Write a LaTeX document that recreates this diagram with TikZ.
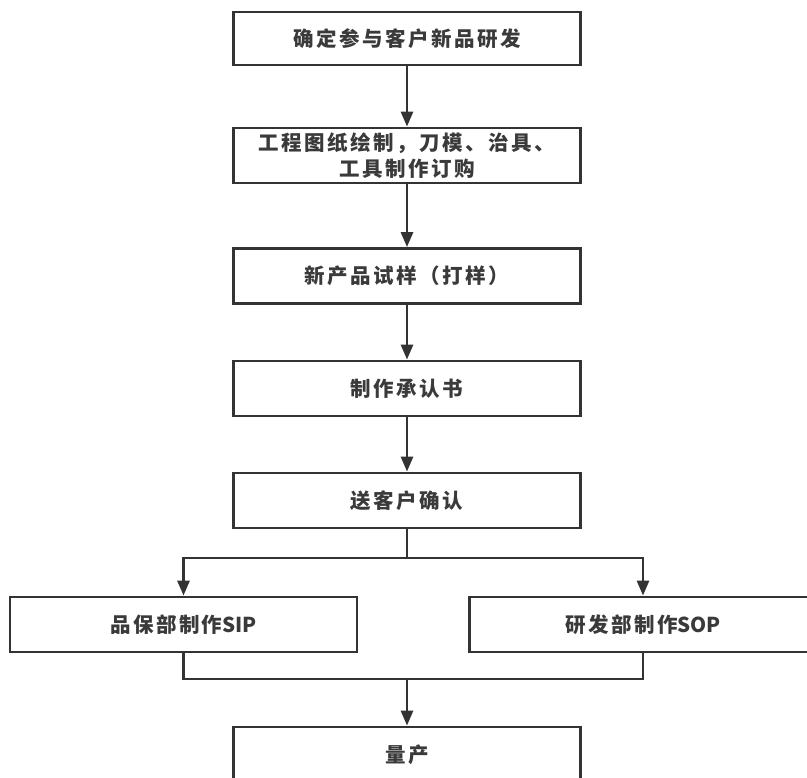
\documentclass[tikz,border=0pt]{standalone}
\usepackage{fontspec}
\setmainfont{Noto Sans CJK SC}[LetterSpace=12]
\usetikzlibrary{arrows.meta}
\definecolor{ink}{HTML}{333333}
\definecolor{txt}{HTML}{3A3A3A}
\tikzset{
  stepbox/.style={draw=ink, line width=2.8pt, fill=white, rectangle, minimum width=347pt, minimum height=55pt, inner sep=0pt, align=center, text=txt, font=\fontsize{20.5}{26}\selectfont\bfseries},
  link/.style={draw=ink, line width=2.8pt},
  arr/.style={link, -{Triangle[width=12pt,length=15pt]}}
}
\begin{document}
\begin{tikzpicture}[x=1pt,y=-1pt]
\useasboundingbox (0,0) rectangle (807,778);
\clip (0,0) rectangle (807,778);
\node[stepbox, minimum height=53pt] (b1) at (407,38.5) {确定参与客户新品研发};
\node[stepbox] (b2) at (407,155.5) {工程图纸绘制，刀模、治具、\\工具制作订购};
\node[stepbox] (b3) at (407,276) {新产品试样（打样）};
\node[stepbox] (b4) at (407,388.5) {制作承认书};
\node[stepbox] (b5) at (407,500.5) {送客户确认};
\node[stepbox] (l) at (183.5,624.5) {品保部制作\addfontfeature{LetterSpace=0}SIP};
\node[stepbox] (r) at (643,624.5) {研发部制作\addfontfeature{LetterSpace=0}SOP};
\node[stepbox] (q) at (407,754.5) {量产};
\coordinate (split) at (407,558);
\coordinate (merge) at (407,679);
\draw[arr] (b1) -- (b2);
\draw[arr] (b2) -- (b3);
\draw[arr] (b3) -- (b4);
\draw[arr] (b4) -- (b5);
\draw[link] (b5) -- (split);
\draw[arr] (split) -| (l.north);
\draw[arr] (split) -| (r.north);
\draw[link] (l.south) |- (merge);
\draw[link] (r.south) |- (merge);
\draw[arr] (merge) -- (q.north);
\end{tikzpicture}
\end{document}
